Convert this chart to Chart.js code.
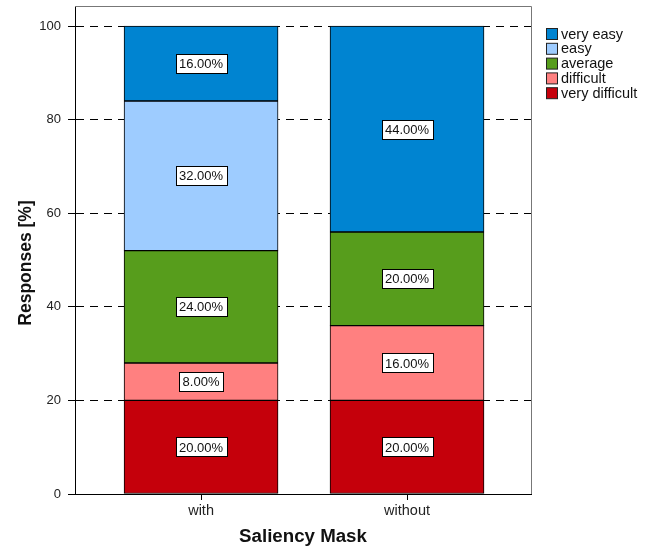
<!DOCTYPE html>
<html>
<head>
<meta charset="utf-8">
<script src="https://cdn.jsdelivr.net/npm/chart.js@4"></script>
<style>
html, body { margin: 0; padding: 0; background: #fff; }
#wrap { width: 652px; height: 548px; }
</style>
</head>
<body>
<div id="wrap"><canvas id="chart" width="652" height="548"></canvas></div>
<script>
const categories = ['with', 'without'];

// bottom to top of each stack
const veryDifficult = [20, 20];
const difficult = [8, 16];
const average = [24, 20];
const easy = [32, 0];
const veryEasy = [16, 44];

const yTicks = [0, 20, 40, 60, 80, 100];

const FONT = "'Liberation Sans', Arial, Helvetica, sans-serif";

function series(vals) {
  return categories.map((c, i) => ({ x: i + 1, y: vals[i] }));
}

function ds(label, vals, color) {
  return {
    label: label,
    data: series(vals),
    backgroundColor: color,
    borderColor: '#000',
    borderWidth: 1,
    borderSkipped: false,
    barThickness: 154,
    stack: 'resp'
  };
}

// percent boxes in the middle of each segment
const valueLabels = {
  id: 'valueLabels',
  afterDatasetsDraw(chart) {
    const ctx = chart.ctx;
    ctx.save();
    ctx.font = '13px ' + FONT;
    ctx.textAlign = 'center';
    ctx.textBaseline = 'middle';
    chart.data.datasets.forEach((d, di) => {
      const meta = chart.getDatasetMeta(di);
      meta.data.forEach((bar, i) => {
        const v = d.data[i].y;
        if (!v) return;
        const txt = v.toFixed(2) + '%';
        const cy = (bar.y + bar.base) / 2;
        const w = Math.round(ctx.measureText(txt).width + 7);
        const h = 19;
        const bx = Math.round(bar.x - w / 2) + 0.5;
        const by = Math.round(cy - h / 2) + 0.5;
        ctx.fillStyle = '#fff';
        ctx.fillRect(bx, by, w, h);
        ctx.strokeStyle = '#000';
        ctx.lineWidth = 1;
        ctx.strokeRect(bx, by, w, h);
        ctx.fillStyle = '#111';
        ctx.fillText(txt, bar.x, cy + 1);
      });
    });
    ctx.restore();
  }
};

// gray top/right edges of the plot box, plus the y title
const frame = {
  id: 'frame',
  beforeDatasetsDraw(chart) {
    const a = chart.chartArea;
    const ctx = chart.ctx;
    ctx.save();
    ctx.strokeStyle = '#777';
    ctx.lineWidth = 1;
    ctx.beginPath();
    ctx.moveTo(a.left, Math.round(a.top) + 0.5);
    ctx.lineTo(Math.round(a.right) + 0.5, Math.round(a.top) + 0.5);
    ctx.lineTo(Math.round(a.right) + 0.5, a.bottom);
    ctx.stroke();

    ctx.translate(26, 263);
    ctx.rotate(-Math.PI / 2);
    ctx.font = 'bold 17.5px ' + FONT;
    ctx.fillStyle = '#111';
    ctx.textAlign = 'center';
    ctx.textBaseline = 'middle';
    ctx.fillText('Responses [%]', 0, 0);
    ctx.restore();
  }
};

// legend to the right of the plot, top entry = top of stack
const sideLegend = {
  id: 'sideLegend',
  afterDraw(chart) {
    const a = chart.chartArea;
    const ctx = chart.ctx;
    const items = chart.data.datasets.slice().reverse();
    const x0 = Math.round(a.right) + 15;
    let y = 28;
    ctx.save();
    ctx.font = '14.5px ' + FONT;
    ctx.textBaseline = 'middle';
    ctx.textAlign = 'left';
    items.forEach(d => {
      ctx.fillStyle = d.backgroundColor;
      ctx.fillRect(x0 + 0.5, y + 0.5, 11, 11);
      ctx.strokeStyle = '#222';
      ctx.lineWidth = 1;
      ctx.strokeRect(x0 + 0.5, y + 0.5, 11, 11);
      ctx.fillStyle = '#111';
      ctx.fillText(d.label, x0 + 15, y + 6.5);
      y += 14.8;
    });
    ctx.restore();
  }
};

new Chart(document.getElementById('chart'), {
  type: 'bar',
  data: {
    datasets: [
      ds('very difficult', veryDifficult, '#C5000B'),
      ds('difficult', difficult, '#FF8080'),
      ds('average', average, '#579D1C'),
      ds('easy', easy, '#9ECCFF'),
      ds('very easy', veryEasy, '#0084D1')
    ]
  },
  options: {
    responsive: false,
    animation: false,
    layout: { padding: { top: 6, right: 121, bottom: 0, left: 0 } },
    plugins: {
      legend: { display: false },
      tooltip: { enabled: false }
    },
    scales: {
      x: {
        type: 'linear',
        stacked: true,
        offset: false,
        min: 0.388,
        max: 2.602,
        afterBuildTicks(axis) {
          axis.ticks = categories.map((c, i) => ({ value: i + 1 }));
        },
        afterFit(scale) {
          scale.height = 54;
          scale.paddingLeft = 0;
          scale.paddingRight = 0;
        },
        ticks: {
          color: '#222',
          font: { family: FONT, size: 14.5 },
          padding: 2,
          callback: v => categories[v - 1] || ''
        },
        grid: { offset: false, drawOnChartArea: false, color: '#000', tickLength: 6 },
        border: { color: '#000', width: 1 },
        title: {
          display: true,
          text: 'Saliency Mask',
          color: '#111',
          font: { family: FONT, size: 18.7, weight: 'bold' },
          padding: { top: 4, bottom: 0 }
        }
      },
      y: {
        stacked: true,
        min: 0,
        max: 104.3,
        afterBuildTicks(axis) {
          axis.ticks = yTicks.map(v => ({ value: v }));
        },
        afterFit(scale) {
          scale.width = 75;
          scale.paddingTop = 0;
          scale.paddingBottom = 0;
        },
        ticks: {
          color: '#222',
          font: { family: FONT, size: 13 },
          padding: 7
        },
        grid: { color: '#000', tickLength: 7 },
        border: { color: '#000', width: 1, dash: [8, 6] }
      }
    }
  },
  plugins: [frame, valueLabels, sideLegend]
});
</script>
</body>
</html>
